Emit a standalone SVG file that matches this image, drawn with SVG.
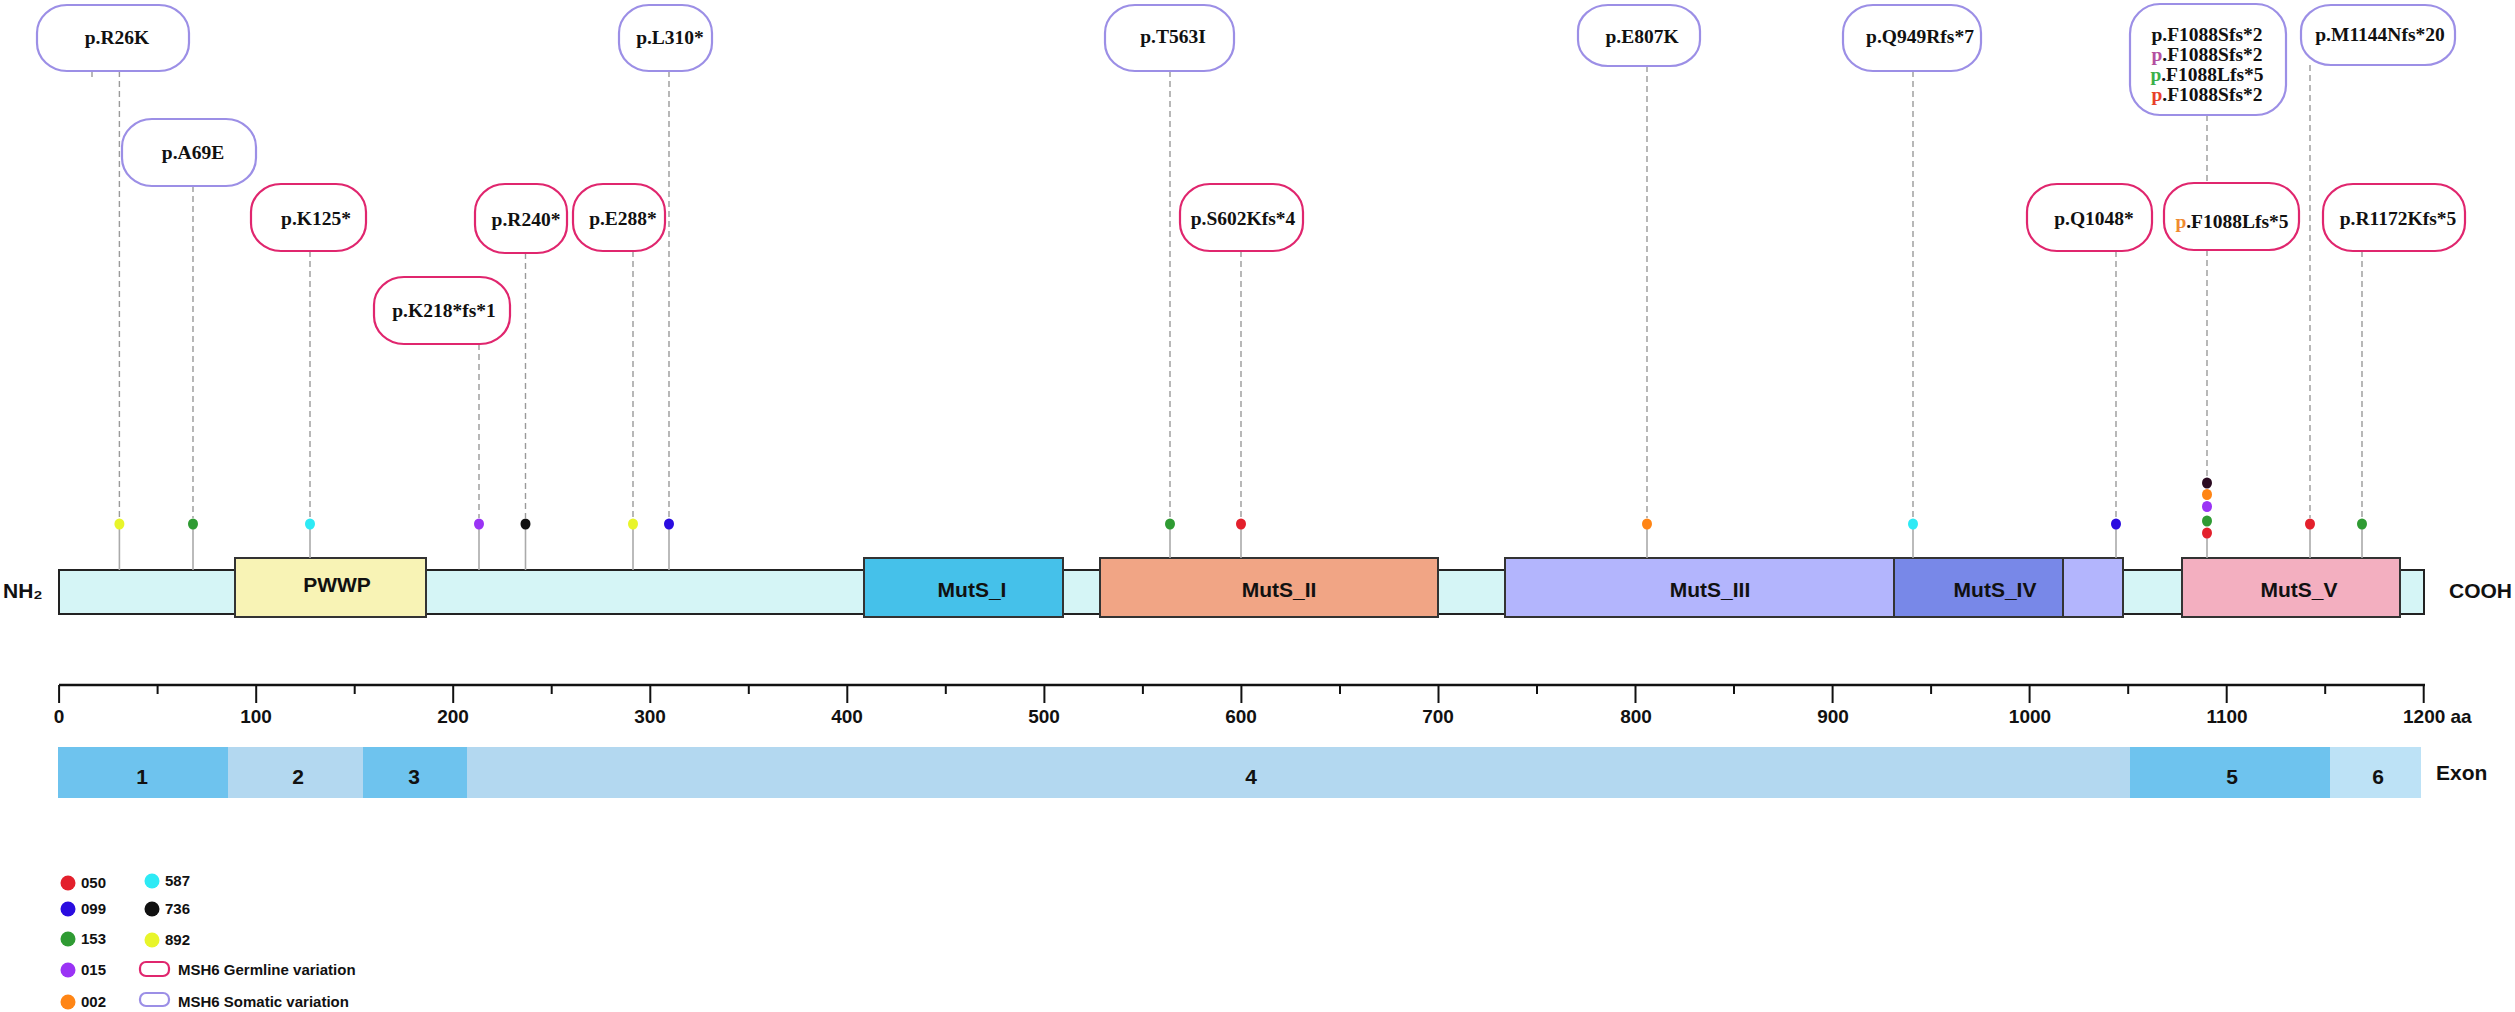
<svg xmlns="http://www.w3.org/2000/svg" width="2515" height="1012" viewBox="0 0 2515 1012">
<style>
.som{fill:#fff;stroke:#9C8FE6;stroke-width:2.2}
.ger{fill:#fff;stroke:#E0266E;stroke-width:2.2}
.vl{font-family:"Liberation Serif",serif;font-weight:bold;font-size:19.5px;fill:#111;text-anchor:middle}
.dash{stroke:#9a9a9a;stroke-width:1.4;stroke-dasharray:6 4;fill:none}
.stalk{stroke:#aaaaaa;stroke-width:1.6;fill:none}
.dom{stroke:#333;stroke-width:2}
.dl{font-family:"Liberation Sans",Arial,sans-serif;font-weight:bold;font-size:21px;fill:#111;text-anchor:middle}
.ax{font-family:"Liberation Sans",Arial,sans-serif;font-weight:bold;font-size:19px;fill:#111;text-anchor:middle}
.lg{font-family:"Liberation Sans",Arial,sans-serif;font-weight:bold;font-size:15px;fill:#111}
.c050{fill:#E3202C}.c099{fill:#2A0CE0}.c153{fill:#2F9B33}.c015{fill:#9A33F5}
.c002{fill:#FF8515}.c587{fill:#2DEAF5}.c736{fill:#111}.c892{fill:#E8F52A}
</style>

<g id="protein">
  <rect x="59" y="570" width="2365" height="44" fill="#D5F5F6" stroke="#222" stroke-width="2"/>
  <text x="3" y="598" class="dl" text-anchor="start" style="text-anchor:start">NH₂</text>
  <text x="2449" y="598" class="dl" style="text-anchor:start">COOH</text>
</g>
<g id="dom-pwwp"><rect class="dom" x="235" y="558" width="191" height="59" fill="#F8F3B5"/><text class="dl" x="337" y="592">PWWP</text></g>
<g id="dom-muts1"><rect class="dom" x="864" y="558" width="199" height="59" fill="#45C1EA"/><text class="dl" x="972" y="597">MutS_I</text></g>
<g id="dom-muts2"><rect class="dom" x="1100" y="558" width="338" height="59" fill="#F1A585"/><text class="dl" x="1279" y="597">MutS_II</text></g>
<g id="dom-muts3"><rect class="dom" x="1505" y="558" width="618" height="59" fill="#B3B5FD"/><text class="dl" x="1710" y="597">MutS_III</text></g>
<g id="dom-muts4"><rect class="dom" x="1894" y="558" width="169" height="59" fill="#7888E8"/><text class="dl" x="1995" y="597">MutS_IV</text></g>
<g id="dom-muts5"><rect class="dom" x="2182" y="558" width="218" height="59" fill="#F3AFC0"/><text class="dl" x="2299" y="597">MutS_V</text></g>

<g id="connectors">
  <line class="dash" x1="119.4" y1="71" x2="119.4" y2="518"/>
  <line class="dash" x1="92" y1="71" x2="92" y2="77"/>
  <line class="dash" x1="193" y1="186" x2="193" y2="518"/>
  <line class="dash" x1="310" y1="251" x2="310" y2="518"/>
  <line class="dash" x1="479" y1="344" x2="479" y2="518"/>
  <line class="dash" x1="525.5" y1="253" x2="525.5" y2="518"/>
  <line class="dash" x1="633" y1="251" x2="633" y2="518"/>
  <line class="dash" x1="669" y1="71" x2="669" y2="518"/>
  <line class="dash" x1="1170" y1="71" x2="1170" y2="518"/>
  <line class="dash" x1="1241" y1="251" x2="1241" y2="518"/>
  <line class="dash" x1="1647" y1="66" x2="1647" y2="518"/>
  <line class="dash" x1="1913" y1="71" x2="1913" y2="518"/>
  <line class="dash" x1="2116" y1="251" x2="2116" y2="518"/>
  <line class="dash" x1="2207" y1="115" x2="2207" y2="183"/>
  <line class="dash" x1="2207" y1="250" x2="2207" y2="477"/>
  <line class="dash" x1="2310" y1="65" x2="2310" y2="518"/>
  <line class="dash" x1="2362" y1="251" x2="2362" y2="518"/>

  <line class="stalk" x1="119.4" y1="529" x2="119.4" y2="570"/>
  <line class="stalk" x1="193" y1="529" x2="193" y2="570"/>
  <line class="stalk" x1="310" y1="529" x2="310" y2="558"/>
  <line class="stalk" x1="479" y1="529" x2="479" y2="570"/>
  <line class="stalk" x1="525.5" y1="529" x2="525.5" y2="570"/>
  <line class="stalk" x1="633" y1="529" x2="633" y2="570"/>
  <line class="stalk" x1="669" y1="529" x2="669" y2="570"/>
  <line class="stalk" x1="1170" y1="529" x2="1170" y2="558"/>
  <line class="stalk" x1="1241" y1="529" x2="1241" y2="558"/>
  <line class="stalk" x1="1647" y1="529" x2="1647" y2="558"/>
  <line class="stalk" x1="1913" y1="529" x2="1913" y2="558"/>
  <line class="stalk" x1="2116" y1="529" x2="2116" y2="558"/>
  <line class="stalk" x1="2207" y1="538" x2="2207" y2="558"/>
  <line class="stalk" x1="2310" y1="529" x2="2310" y2="558"/>
  <line class="stalk" x1="2362" y1="529" x2="2362" y2="558"/>
</g>

<g id="dots">
  <ellipse class="c892" cx="119.4" cy="524" rx="5" ry="5.5"/>
  <ellipse class="c153" cx="193" cy="524" rx="5" ry="5.5"/>
  <ellipse class="c587" cx="310" cy="524" rx="5" ry="5.5"/>
  <ellipse class="c015" cx="479" cy="524" rx="5" ry="5.5"/>
  <ellipse class="c736" cx="525.5" cy="524" rx="5" ry="5.5"/>
  <ellipse class="c892" cx="633" cy="524" rx="5" ry="5.5"/>
  <ellipse class="c099" cx="669" cy="524" rx="5" ry="5.5"/>
  <ellipse class="c153" cx="1170" cy="524" rx="5" ry="5.5"/>
  <ellipse class="c050" cx="1241" cy="524" rx="5" ry="5.5"/>
  <ellipse class="c002" cx="1647" cy="524" rx="5" ry="5.5"/>
  <ellipse class="c587" cx="1913" cy="524" rx="5" ry="5.5"/>
  <ellipse class="c099" cx="2116" cy="524" rx="5" ry="5.5"/>
  <ellipse fill="#2B0B22" cx="2207" cy="483" rx="5" ry="5.5"/>
  <ellipse class="c002" cx="2207" cy="494.5" rx="5" ry="5.5"/>
  <ellipse class="c015" cx="2207" cy="506.5" rx="5" ry="5.5"/>
  <ellipse class="c153" cx="2207" cy="521" rx="5" ry="5.5"/>
  <ellipse class="c050" cx="2207" cy="533" rx="5" ry="5.5"/>
  <ellipse class="c050" cx="2310" cy="524" rx="5" ry="5.5"/>
  <ellipse class="c153" cx="2362" cy="524" rx="5" ry="5.5"/>
</g>

<g id="v-R26K"><rect class="som" x="37" y="5" width="152" height="66" rx="30" ry="28"/><text class="vl" x="117" y="44">p.R26K</text></g>
<g id="v-A69E"><rect class="som" x="122" y="119" width="134" height="67" rx="30" ry="28"/><text class="vl" x="193" y="159">p.A69E</text></g>
<g id="v-L310"><rect class="som" x="619" y="5" width="93" height="66" rx="30" ry="28"/><text class="vl" x="670" y="44">p.L310*</text></g>
<g id="v-T563I"><rect class="som" x="1105" y="5" width="129" height="66" rx="30" ry="28"/><text class="vl" x="1173" y="43">p.T563I</text></g>
<g id="v-E807K"><rect class="som" x="1578" y="5" width="122" height="61" rx="30" ry="26"/><text class="vl" x="1642" y="43">p.E807K</text></g>
<g id="v-Q949"><rect class="som" x="1843" y="5" width="138" height="66" rx="30" ry="28"/><text class="vl" x="1920" y="43">p.Q949Rfs*7</text></g>
<g id="v-F1088-som"><rect class="som" x="2130" y="4" width="156" height="111" rx="30" ry="30"/>
  <text class="vl" x="2207" y="41">p.F1088Sfs*2</text>
  <text class="vl" x="2207" y="61"><tspan fill="#B44FA0">p</tspan>.F1088Sfs*2</text>
  <text class="vl" x="2207" y="81"><tspan fill="#3BB04A">p</tspan>.F1088Lfs*5</text>
  <text class="vl" x="2207" y="101"><tspan fill="#E8402A">p</tspan>.F1088Sfs*2</text>
</g>
<g id="v-M1144"><rect class="som" x="2301" y="5" width="154" height="60" rx="30" ry="26"/><text class="vl" x="2380" y="41">p.M1144Nfs*20</text></g>

<g id="v-K125"><rect class="ger" x="251" y="184" width="115" height="67" rx="30" ry="28"/><text class="vl" x="316" y="225">p.K125*</text></g>
<g id="v-K218"><rect class="ger" x="374" y="277" width="136" height="67" rx="30" ry="28"/><text class="vl" x="444" y="317">p.K218*fs*1</text></g>
<g id="v-R240"><rect class="ger" x="475" y="184" width="92" height="69" rx="30" ry="28"/><text class="vl" x="526" y="226">p.R240*</text></g>
<g id="v-E288"><rect class="ger" x="573" y="184" width="92" height="67" rx="30" ry="28"/><text class="vl" x="623" y="225">p.E288*</text></g>
<g id="v-S602"><rect class="ger" x="1180" y="184" width="123" height="67" rx="30" ry="28"/><text class="vl" x="1243" y="225">p.S602Kfs*4</text></g>
<g id="v-Q1048"><rect class="ger" x="2027" y="184" width="125" height="67" rx="30" ry="28"/><text class="vl" x="2094" y="225">p.Q1048*</text></g>
<g id="v-F1088-ger"><rect class="ger" x="2164" y="183" width="135" height="67" rx="30" ry="28"/><text class="vl" x="2232" y="228"><tspan fill="#F08A30">p</tspan>.F1088Lfs*5</text></g>
<g id="v-R1172"><rect class="ger" x="2323" y="184" width="142" height="67" rx="30" ry="28"/><text class="vl" x="2398" y="225">p.R1172Kfs*5</text></g>

<g id="axis" stroke="#111">
  <line x1="59" y1="685" x2="2425" y2="685" stroke-width="2.5"/>
  <g stroke-width="2">
    <line x1="59.1" y1="685" x2="59.1" y2="703"/><line x1="256.2" y1="685" x2="256.2" y2="703"/>
    <line x1="453.2" y1="685" x2="453.2" y2="703"/><line x1="650.3" y1="685" x2="650.3" y2="703"/>
    <line x1="847.3" y1="685" x2="847.3" y2="703"/><line x1="1044.4" y1="685" x2="1044.4" y2="703"/>
    <line x1="1241.4" y1="685" x2="1241.4" y2="703"/><line x1="1438.5" y1="685" x2="1438.5" y2="703"/>
    <line x1="1635.5" y1="685" x2="1635.5" y2="703"/><line x1="1832.6" y1="685" x2="1832.6" y2="703"/>
    <line x1="2029.6" y1="685" x2="2029.6" y2="703"/><line x1="2226.7" y1="685" x2="2226.7" y2="703"/>
    <line x1="2423.7" y1="685" x2="2423.7" y2="703"/>
    <line x1="157.6" y1="685" x2="157.6" y2="694"/><line x1="354.7" y1="685" x2="354.7" y2="694"/>
    <line x1="551.7" y1="685" x2="551.7" y2="694"/><line x1="748.8" y1="685" x2="748.8" y2="694"/>
    <line x1="945.8" y1="685" x2="945.8" y2="694"/><line x1="1142.9" y1="685" x2="1142.9" y2="694"/>
    <line x1="1340" y1="685" x2="1340" y2="694"/><line x1="1537" y1="685" x2="1537" y2="694"/>
    <line x1="1734" y1="685" x2="1734" y2="694"/><line x1="1931.1" y1="685" x2="1931.1" y2="694"/>
    <line x1="2128.2" y1="685" x2="2128.2" y2="694"/><line x1="2325.2" y1="685" x2="2325.2" y2="694"/>
  </g>
  <g stroke="none">
    <text class="ax" x="59" y="723">0</text><text class="ax" x="256" y="723">100</text>
    <text class="ax" x="453" y="723">200</text><text class="ax" x="650" y="723">300</text>
    <text class="ax" x="847" y="723">400</text><text class="ax" x="1044" y="723">500</text>
    <text class="ax" x="1241" y="723">600</text><text class="ax" x="1438" y="723">700</text>
    <text class="ax" x="1636" y="723">800</text><text class="ax" x="1833" y="723">900</text>
    <text class="ax" x="2030" y="723">1000</text><text class="ax" x="2227" y="723">1100</text>
    <text class="ax" x="2403" y="723" style="text-anchor:start">1200 aa</text>
  </g>
</g>

<g id="exons">
  <rect x="58" y="747" width="170" height="51" fill="#6EC3EE"/>
  <rect x="228" y="747" width="135" height="51" fill="#B3D8F0"/>
  <rect x="363" y="747" width="104" height="51" fill="#6EC3EE"/>
  <rect x="467" y="747" width="1663" height="51" fill="#B3D8F0"/>
  <rect x="2130" y="747" width="200" height="51" fill="#6EC3EE"/>
  <rect x="2330" y="747" width="91" height="51" fill="#BDE2F6"/>
  <text class="dl" x="142" y="784">1</text>
  <text class="dl" x="298" y="784">2</text>
  <text class="dl" x="414" y="784">3</text>
  <text class="dl" x="1251" y="784">4</text>
  <text class="dl" x="2232" y="784">5</text>
  <text class="dl" x="2378" y="784">6</text>
  <text class="dl" x="2436" y="780" style="text-anchor:start">Exon</text>
</g>

<g id="legend">
  <circle class="c050" cx="68" cy="883" r="7.5"/><text class="lg" x="81" y="888">050</text>
  <circle class="c099" cx="68" cy="909" r="7.5"/><text class="lg" x="81" y="914">099</text>
  <circle class="c153" cx="68" cy="939" r="7.5"/><text class="lg" x="81" y="944">153</text>
  <circle class="c015" cx="68" cy="970" r="7.5"/><text class="lg" x="81" y="975">015</text>
  <circle class="c002" cx="68" cy="1002" r="7.5"/><text class="lg" x="81" y="1007">002</text>
  <circle class="c587" cx="152" cy="881" r="7.5"/><text class="lg" x="165" y="886">587</text>
  <circle class="c736" cx="152" cy="909" r="7.5"/><text class="lg" x="165" y="914">736</text>
  <circle class="c892" cx="152" cy="940" r="7.5"/><text class="lg" x="165" y="945">892</text>
  <rect class="ger" x="140" y="962" width="29" height="14" rx="6" stroke-width="1.8"/><text class="lg" x="178" y="975">MSH6 Germline variation</text>
  <rect class="som" x="140" y="993" width="29" height="13" rx="6" stroke-width="1.8"/><text class="lg" x="178" y="1007">MSH6 Somatic variation</text>
</g>
</svg>
